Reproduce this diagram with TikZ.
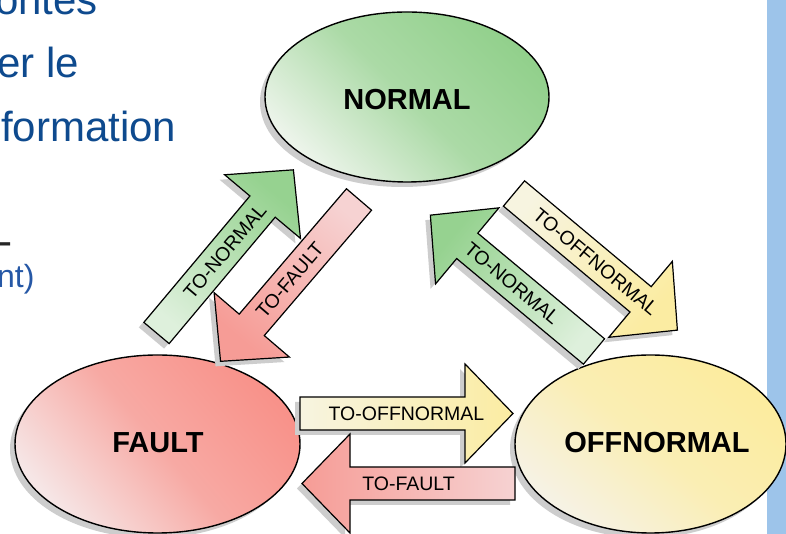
\documentclass[tikz,border=0pt]{standalone}
\usepackage{fontspec}
\setmainfont{Liberation Sans}
\usetikzlibrary{shapes.geometric,shadows}

\definecolor{sidebar}{RGB}{157,196,234}
\definecolor{bodyblue}{RGB}{14,74,142}
\definecolor{noteblue}{RGB}{38,88,166}
\definecolor{ngdark}{RGB}{146,208,140}
\definecolor{nglight}{RGB}{236,244,234}
\definecolor{frdark}{RGB}{248,146,138}
\definecolor{frlight}{RGB}{246,230,230}
\definecolor{oydark}{RGB}{252,236,158}
\definecolor{oylight}{RGB}{246,242,230}
\definecolor{agdark}{RGB}{150,210,144}
\definecolor{aglight}{RGB}{222,240,220}
\definecolor{ardark}{RGB}{246,156,150}
\definecolor{arlight}{RGB}{246,210,210}
\definecolor{aydark}{RGB}{251,236,162}
\definecolor{aylight}{RGB}{247,244,224}
\definecolor{shadowgray}{RGB}{205,205,205}

\tikzset{
  bodytext/.style={inner sep=0pt, anchor=base west, text=bodyblue,
    font=\fontsize{42}{42}\selectfont},
  state/.style={ellipse, draw=black, line width=1.4pt, inner sep=0pt,
    drop shadow={shadow xshift=-5pt, shadow yshift=-5pt, fill=shadowgray, opacity=1}},
  statetext/.style={inner sep=0pt, font=\fontsize{29}{29}\selectfont\bfseries},
  normalfill/.style={top color=ngdark, bottom color=nglight,
    middle color=ngdark!72!nglight, shading angle=-45},
  faultfill/.style={top color=frdark, bottom color=frlight,
    middle color=frdark!72!frlight, shading angle=-50},
  offfill/.style={top color=oydark, bottom color=oylight,
    middle color=oydark!70!oylight, shading angle=-40},
  greenarrow/.style={top color=agdark, bottom color=aglight},
  redarrow/.style={top color=ardark, bottom color=arlight},
  yellowarrow/.style={top color=aydark, bottom color=aylight},
  arrowline/.style={draw=black, line width=1.2pt, line join=miter},
  arrowlabel/.style={inner sep=0pt, font=\fontsize{19.5}{19.5}\selectfont},
  arrowshape/.style={insert path={(0,-16.5) -- (165,-16.5) -- (165,-49.5)
    -- (213,0) -- (165,49.5) -- (165,16.5) -- (0,16.5) -- cycle}}
}

% block arrow: #1 label name, #2 tail x, #3 tail y, #4 direction,
% #5 fill style, #6 shading angle, #7 label, #8 label rotation
\newcommand\blockarrow[8]{%
  \begin{scope}[shift={(#2-5,#3-5)}, rotate=#4]
    \fill[shadowgray, arrowshape];
  \end{scope}
  \begin{scope}[shift={(#2,#3)}, rotate=#4]
    \path[arrowline, #5, shading angle=#6, arrowshape];
    \node[arrowlabel, rotate=#8] (#1) at (106.5,0) {#7};
  \end{scope}}

\begin{document}
\begin{tikzpicture}[x=1pt,y=1pt]
\useasboundingbox (0,0) rectangle (786,534);
\fill[white] (0,0) rectangle (786,534);
\fill[sidebar] (767,0) rectangle (786,534);

% slide text at the left edge
\node[bodytext] (l1) at (-5,519) {ontes};
\node[bodytext] (l2) at (-3,456) {er le};
\node[bodytext] (l3) at (1,392) {formation};
\node[bodytext, text=black!85] (l4) at (-2,278) {-};
\node[bodytext, text=noteblue, font=\fontsize{32}{32}\selectfont] (l5) at (-3,246) {nt)};

% states
\node[state, normalfill, minimum width=284pt, minimum height=170pt] (normal) at (407,437) {};
\node[statetext] (normaltext) at (407,434) {NORMAL};
\node[state, faultfill, minimum width=285pt, minimum height=178pt] (fault) at (157.5,90) {};
\node[statetext] (faulttext) at (158,91) {FAULT};
\node[state, offfill, minimum width=271pt, minimum height=178pt] (offnormal) at (650.5,90) {};
\node[statetext] (offtext) at (657,91) {OFFNORMAL};

% transitions
\blockarrow{fn}{156.5}{201}{50}{greenarrow}{-40}{TO-NORMAL}{50}
\blockarrow{nf}{359}{334.5}{229.45}{redarrow}{139.45}{TO-FAULT}{49.45}
\blockarrow{on}{594}{182.5}{140.2}{greenarrow}{50.2}{TO-NORMAL}{-39.8}
\blockarrow{no}{514}{340.5}{-39.9}{yellowarrow}{-129.9}{TO-OFFNORMAL}{-39.9}
\blockarrow{fo}{300}{120.5}{0}{yellowarrow}{-90}{TO-OFFNORMAL}{0}
\blockarrow{of}{515}{50.5}{180}{redarrow}{90}{TO-FAULT}{0}
\end{tikzpicture}
\end{document}
